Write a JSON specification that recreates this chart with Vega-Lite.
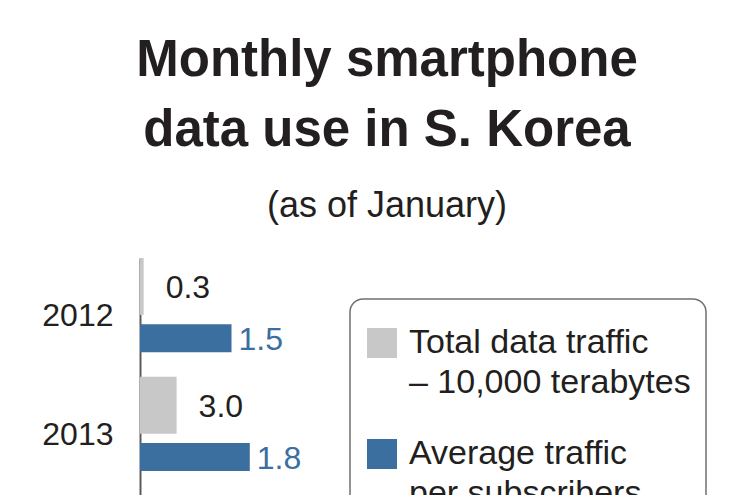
{
  "$schema": "https://vega.github.io/schema/vega-lite/v6.json",
  "width": 610,
  "height": 237,
  "autosize": {"type": "none"},
  "padding": {"left": 140, "top": 258, "right": 0, "bottom": 0},
  "background": "white",
  "title": {
    "text": ["Monthly smartphone", "data use in S. Korea"],
    "subtitle": "(as of January)",
    "anchor": "middle",
    "dx": -58,
    "font": "Liberation Sans",
    "fontSize": 51,
    "fontWeight": "bold",
    "lineHeight": 70,
    "color": "#231f20",
    "subtitleFont": "Liberation Sans",
    "subtitleFontSize": 36,
    "subtitleColor": "#231f20",
    "subtitlePadding": 32,
    "offset": 33
  },
  "data": {
    "values": [
      {"year": "2012", "series": "total", "value": 0.3, "label": "0.3"},
      {"year": "2012", "series": "avg", "value": 1.5, "label": "1.5"},
      {"year": "2013", "series": "total", "value": 3.0, "label": "3.0"},
      {"year": "2013", "series": "avg", "value": 1.8, "label": "1.8"}
    ]
  },
  "config": {
    "view": {"stroke": null},
    "style": {"guide-label": {"lineHeight": 40}},
    "legend": {
      "strokeColor": "#707070",
      "strokeWidth": 1.5,
      "cornerRadius": 13,
      "padding": 15,
      "labelFont": "Liberation Sans",
      "labelFontSize": 34,
      "labelColor": "#231f20",
      "labelOffset": 10,
      "labelLimit": 0,
      "symbolType": "square",
      "symbolSize": 900,
      "symbolStrokeWidth": 0,
      "symbolOpacity": 1,
      "rowPadding": 37,
      "titleFontSize": 2,
      "titlePadding": 10
    }
  },
  "encoding": {
    "y": {
      "field": "year",
      "type": "nominal",
      "scale": {"paddingInner": 0.084, "paddingOuter": 0.04, "align": 0},
      "axis": {
        "title": null,
        "domainColor": "#5a5a5a",
        "domainWidth": 2,
        "ticks": false,
        "labelFont": "Liberation Sans",
        "labelFontSize": 32,
        "labelColor": "#231f20",
        "labelPadding": 27,
        "labelOffset": 4
      }
    },
    "yOffset": {
      "field": "series",
      "type": "nominal",
      "sort": ["total", "avg"],
      "scale": {"domain": ["total", "avg"], "paddingInner": 0, "paddingOuter": 0.048}
    }
  },
  "layer": [
    {
      "transform": [{"filter": "datum.series == 'total'"}],
      "mark": {"type": "bar", "height": 57},
      "encoding": {
        "x": {"field": "value", "type": "quantitative", "scale": {"domain": [0, 50]}, "axis": null},
        "color": {
          "field": "series",
          "type": "nominal",
          "scale": {"domain": ["total", "avg"], "range": ["#c8c8c8", "#3a6f9f"]},
          "legend": {
            "title": " ",
            "orient": "none",
            "legendX": 210,
            "legendY": 41,
            "labelExpr": "datum.label == 'total' ? ['Total data traffic', '– 10,000 terabytes'] : ['Average traffic', 'per subscribers']"
          }
        }
      }
    },
    {
      "transform": [{"filter": "datum.series == 'avg'"}],
      "mark": {"type": "bar", "height": 28},
      "encoding": {
        "x": {"field": "value", "type": "quantitative", "scale": {"domain": [0, 10]}, "axis": null},
        "color": {"field": "series", "type": "nominal"}
      }
    },
    {
      "transform": [{"filter": "datum.series == 'total'"}],
      "mark": {"type": "text", "align": "left", "baseline": "middle", "dx": 22, "dy": 2, "font": "Liberation Sans", "fontSize": 32, "color": "#231f20"},
      "encoding": {
        "x": {"field": "value", "type": "quantitative", "scale": {"domain": [0, 50]}, "axis": null},
        "text": {"field": "label"}
      }
    },
    {
      "transform": [{"filter": "datum.series == 'avg'"}],
      "mark": {"type": "text", "align": "left", "baseline": "middle", "dx": 7, "dy": 2, "font": "Liberation Sans", "fontSize": 32, "color": "#3a6f9f"},
      "encoding": {
        "x": {"field": "value", "type": "quantitative", "scale": {"domain": [0, 10]}, "axis": null},
        "text": {"field": "label"}
      }
    }
  ],
  "resolve": {"scale": {"x": "independent"}, "axis": {"x": "independent"}}
}
